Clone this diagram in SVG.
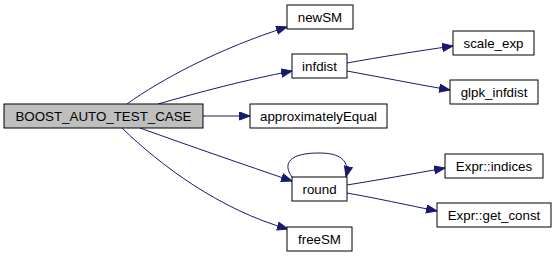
<svg xmlns="http://www.w3.org/2000/svg" width="557" height="257" viewBox="0 0 557 257">
  <style>
    .box { fill: #ffffff; stroke: #000000; stroke-width: 1; }
    .root { fill: #bfbfbf; stroke: #000000; stroke-width: 1; }
    .lbl { font-family: "Liberation Sans", Arial, sans-serif; font-size: 13.33px; fill: #000000; text-anchor: middle; }
    .edge { fill: none; stroke: #191970; stroke-width: 1; }
  </style>
  <defs>
    <marker id="arrow" markerUnits="userSpaceOnUse" markerWidth="13" markerHeight="10" refX="11" refY="4.5" orient="auto">
      <path d="M0.5,0.5 L11,4.5 L0.5,8.5 z" fill="#191970" stroke="#191970" stroke-width="1"/>
    </marker>
  </defs>
  <rect width="557" height="257" fill="#ffffff"/>

  <g id="edges">
    <path class="edge" marker-end="url(#arrow)" d="M127,104 C160,80 220,48 287,27"/>
    <path class="edge" marker-end="url(#arrow)" d="M158,104 C200,92 245,80 292,71"/>
    <path class="edge" marker-end="url(#arrow)" d="M203,116 L250,116"/>
    <path class="edge" marker-end="url(#arrow)" d="M140,128 C190,146 245,165 292,181"/>
    <path class="edge" marker-end="url(#arrow)" d="M122,128 C160,165 220,210 288,229"/>
    <path class="edge" marker-end="url(#arrow)" d="M347,63 C380,57 418,51 453,46"/>
    <path class="edge" marker-end="url(#arrow)" d="M347,71 C380,77 415,84 450,90"/>
    <path class="edge" marker-end="url(#arrow)" d="M292,177 C282,163 290,153 319,153 C340,153 350,160 346,177"/>
    <path class="edge" marker-end="url(#arrow)" d="M347,185 C378,180 412,174 445,168"/>
    <path class="edge" marker-end="url(#arrow)" d="M347,193 C376,198 407,205 437,211"/>
  </g>

  <g id="node-main">
    <rect class="root" x="4" y="104" width="199" height="24"/>
    <text class="lbl" x="103.5" y="120.5">BOOST_AUTO_TEST_CASE</text>
  </g>
  <g id="node-newSM">
    <rect class="box" x="287" y="5" width="66" height="24"/>
    <text class="lbl" x="320" y="21.5">newSM</text>
  </g>
  <g id="node-infdist">
    <rect class="box" x="292" y="54" width="55" height="24"/>
    <text class="lbl" x="319.5" y="70.5">infdist</text>
  </g>
  <g id="node-approximatelyEqual">
    <rect class="box" x="250" y="104" width="137" height="24"/>
    <text class="lbl" x="318.5" y="120.5">approximatelyEqual</text>
  </g>
  <g id="node-round">
    <rect class="box" x="292" y="177" width="55" height="24"/>
    <text class="lbl" x="319.5" y="193.5">round</text>
  </g>
  <g id="node-freeSM">
    <rect class="box" x="287" y="227" width="65" height="24"/>
    <text class="lbl" x="319.5" y="243.5">freeSM</text>
  </g>
  <g id="node-scale_exp">
    <rect class="box" x="453" y="31" width="81" height="24"/>
    <text class="lbl" x="493.5" y="47.5">scale_exp</text>
  </g>
  <g id="node-glpk_infdist">
    <rect class="box" x="450" y="80" width="88" height="24"/>
    <text class="lbl" x="494" y="96.5">glpk_infdist</text>
  </g>
  <g id="node-expr-indices">
    <rect class="box" x="445" y="154" width="98" height="24"/>
    <text class="lbl" x="494" y="170.5">Expr::indices</text>
  </g>
  <g id="node-expr-get_const">
    <rect class="box" x="437" y="203" width="114" height="24"/>
    <text class="lbl" x="494" y="219.5">Expr::get_const</text>
  </g>
</svg>
